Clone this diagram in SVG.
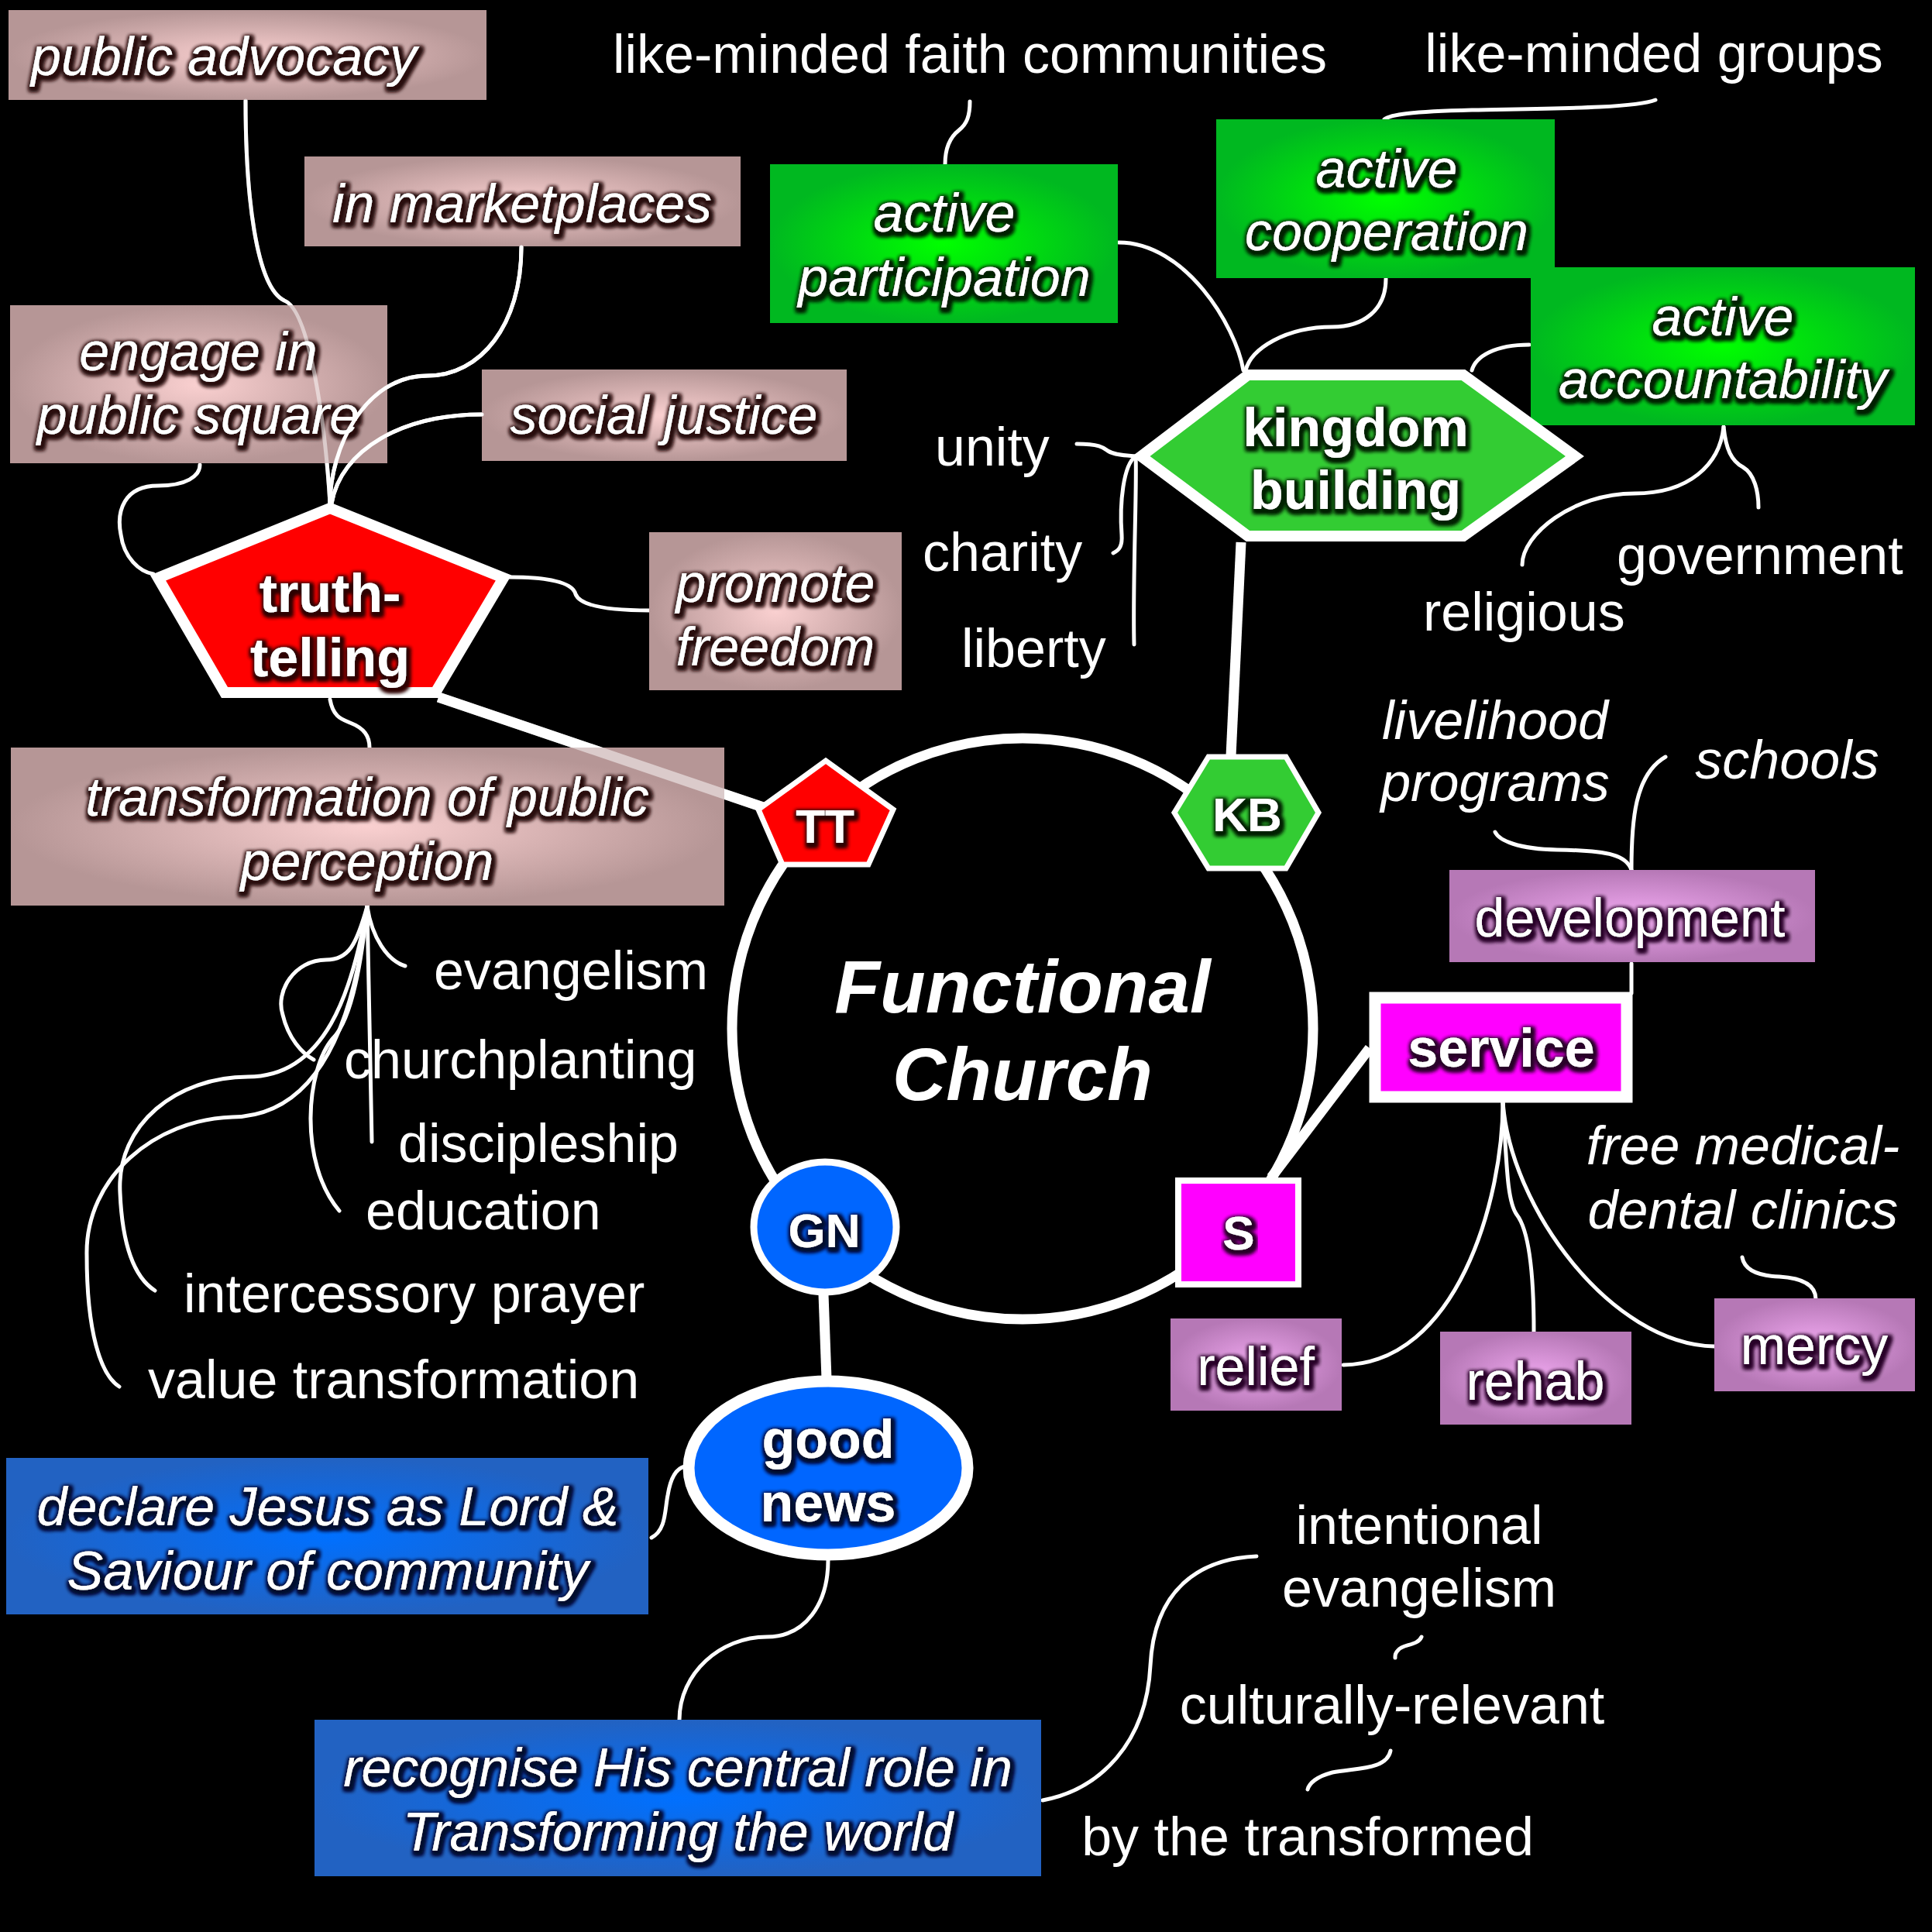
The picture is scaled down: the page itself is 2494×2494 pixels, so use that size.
<svg xmlns="http://www.w3.org/2000/svg" xmlns:xlink="http://www.w3.org/1999/xlink" width="2494" height="2494" viewBox="0 0 2494 2494">
<defs>
<style>
.lbl{font-family:"Liberation Sans",Arial,sans-serif;font-size:70px;fill:#fff}
.it{font-style:italic}
.b{font-weight:bold}
.m{text-anchor:middle}
.c{fill:none;stroke:#fff;stroke-width:5;stroke-linecap:round}
.t{fill:none;stroke:#fff;stroke-width:13}
.pk{fill:url(#gPink)}
.gr{fill:url(#gGreen)}
.pu{fill:url(#gPurple)}
.bl{fill:url(#gBlue)}
</style>
<radialGradient id="gPink"><stop offset="0" stop-color="#fad0d0"/><stop offset="1" stop-color="#b69696"/></radialGradient>
<radialGradient id="gGreen"><stop offset="0" stop-color="#00ff00"/><stop offset="1" stop-color="#00b820"/></radialGradient>
<radialGradient id="gPurple"><stop offset="0" stop-color="#f0a8f0"/><stop offset="1" stop-color="#b678b6"/></radialGradient>
<radialGradient id="gBlue"><stop offset="0" stop-color="#0070ff"/><stop offset="1" stop-color="#2262c2"/></radialGradient>
<filter id="fBr" x="-10%" y="-30%" width="120%" height="160%"><feMorphology in="SourceAlpha" operator="dilate" radius="2.5" result="d"/><feGaussianBlur in="d" stdDeviation="2.5" result="bb"/><feOffset in="bb" dx="2" dy="3" result="o"/><feFlood flood-color="#2a1010"/><feComposite in2="o" operator="in" result="s"/><feMerge><feMergeNode in="s"/><feMergeNode in="s"/><feMergeNode in="SourceGraphic"/></feMerge></filter>
<filter id="fGr" x="-10%" y="-30%" width="120%" height="160%"><feMorphology in="SourceAlpha" operator="dilate" radius="2.5" result="d"/><feGaussianBlur in="d" stdDeviation="2.5" result="bb"/><feOffset in="bb" dx="2" dy="3" result="o"/><feFlood flood-color="#002200"/><feComposite in2="o" operator="in" result="s"/><feMerge><feMergeNode in="s"/><feMergeNode in="s"/><feMergeNode in="SourceGraphic"/></feMerge></filter>
<filter id="fBl" x="-10%" y="-30%" width="120%" height="160%"><feMorphology in="SourceAlpha" operator="dilate" radius="2.5" result="d"/><feGaussianBlur in="d" stdDeviation="2.5" result="bb"/><feOffset in="bb" dx="2" dy="3" result="o"/><feFlood flood-color="#000a30"/><feComposite in2="o" operator="in" result="s"/><feMerge><feMergeNode in="s"/><feMergeNode in="s"/><feMergeNode in="SourceGraphic"/></feMerge></filter>
<filter id="fPu" x="-10%" y="-30%" width="120%" height="160%"><feMorphology in="SourceAlpha" operator="dilate" radius="2.5" result="d"/><feGaussianBlur in="d" stdDeviation="2.5" result="bb"/><feOffset in="bb" dx="2" dy="3" result="o"/><feFlood flood-color="#2a002a"/><feComposite in2="o" operator="in" result="s"/><feMerge><feMergeNode in="s"/><feMergeNode in="s"/><feMergeNode in="SourceGraphic"/></feMerge></filter>
<filter id="fRd" x="-10%" y="-30%" width="120%" height="160%"><feMorphology in="SourceAlpha" operator="dilate" radius="2.5" result="d"/><feGaussianBlur in="d" stdDeviation="2.5" result="bb"/><feOffset in="bb" dx="2" dy="3" result="o"/><feFlood flood-color="#300000"/><feComposite in2="o" operator="in" result="s"/><feMerge><feMergeNode in="s"/><feMergeNode in="s"/><feMergeNode in="SourceGraphic"/></feMerge></filter>
</defs>
<rect x="0" y="0" width="2494" height="2494" fill="#000"/>

<g id="connectors">
<path id="cTT" class="t" d="M566 900 L985 1042"/>
<path class="t" d="M1602 700 L1589 976"/>
<path class="t" d="M1768 1353 L1641 1520"/>
<path class="t" d="M1063 1671 L1067 1780"/>
<path id="cPA" class="c" d="M317 130 C317 250 330 370 367 388 C400 400 420 550 426 650"/>
<path id="cMK" class="c" d="M673 319 C673 420 620 485 552 485 C470 485 426 580 426 650"/>
<path id="cSJ" class="c" d="M622 535 C520 535 440 580 428 650"/>
<path class="c" d="M258 600 C258 615 240 627 204 627 C160 627 150 660 156 690 C160 720 180 738 198 741"/>
<path class="c" d="M657 745 C720 745 740 755 743 767 C750 785 800 788 839 788"/>
<path class="c" d="M426 903 C430 925 440 928 452 933 C470 940 477 950 477 965"/>
<path class="c" d="M474 1170 C480 1210 500 1240 523 1247"/>
<path class="c" d="M474 1170 L480 1474"/>
<path class="c" d="M474 1170 C460 1220 450 1239 421 1239 C380 1239 355 1280 365 1310 C372 1340 390 1360 405 1368"/>
<path class="c" d="M474 1170 C465 1260 450 1320 430 1340 C395 1380 385 1500 438 1563"/>
<path class="c" d="M474 1170 C455 1280 420 1390 320 1390 C230 1390 150 1450 155 1540 C158 1610 175 1650 200 1666"/>
<path class="c" d="M474 1170 C460 1300 420 1440 300 1442 C200 1445 110 1520 112 1620 C112 1720 130 1775 154 1790"/>
<path class="c" d="M1444 313 C1530 313 1595 420 1605 478"/>
<path class="c" d="M1789 360 C1789 400 1760 422 1720 422 C1660 422 1615 450 1608 478"/>
<path class="c" d="M1974 445 C1930 445 1905 460 1900 478"/>
<path class="c" d="M1252 131 C1252 150 1248 160 1238 168 C1225 178 1220 195 1220 212"/>
<path class="c" d="M2137 129 C2110 140 2000 140 1900 142 C1820 144 1795 148 1787 154"/>
<path class="c" d="M1390 573 C1420 573 1425 578 1430 582 C1440 588 1455 588 1466 589"/>
<path class="c" d="M1466 589 C1450 600 1445 650 1448 690 C1449 705 1445 710 1437 714"/>
<path class="c" d="M1466 589 C1468 620 1462 750 1464 832"/>
<path class="c" d="M2225 551 C2228 580 2235 595 2250 603 C2265 612 2270 635 2270 655"/>
<path class="c" d="M2225 551 C2220 600 2180 637 2110 637 C2030 637 1965 690 1965 729"/>
<path class="c" d="M2106 1244 L2106 1282"/>
<path class="c" d="M2106 1123 C2106 1060 2110 1000 2150 977"/>
<path class="c" d="M2106 1123 C2100 1105 2080 1098 2010 1097 C1960 1096 1935 1085 1930 1074"/>
<path class="c" d="M1940 1423 C1940 1550 1880 1760 1734 1762"/>
<path class="c" d="M1940 1423 C1945 1500 1945 1550 1958 1568 C1975 1590 1980 1650 1980 1720"/>
<path class="c" d="M1940 1423 C1950 1560 2080 1735 2213 1738"/>
<path class="c" d="M2249 1623 C2252 1640 2270 1647 2297 1648 C2330 1650 2344 1660 2344 1677"/>
<path class="c" d="M841 1985 C860 1975 858 1950 862 1930 C866 1905 875 1895 884 1893"/>
<path class="c" d="M1069 2014 C1069 2070 1040 2113 990 2113 C930 2113 877 2160 877 2220"/>
<path class="c" d="M1346 2324 C1420 2310 1480 2250 1485 2150 C1490 2050 1550 2012 1622 2009"/>
<path class="c" d="M1835 2113 C1830 2125 1810 2122 1805 2130 C1800 2135 1801 2138 1801 2140"/>
<path class="c" d="M1795 2260 C1790 2285 1750 2282 1720 2288 C1700 2293 1690 2302 1688 2310"/>
</g>

<g id="nodes">
<g id="n-circle"><circle cx="1320" cy="1328" r="375" fill="none" stroke="#fff" stroke-width="13"/>
<text class="lbl b it m" style="font-size:96px" x="1320" y="1307">Functional</text>
<text class="lbl b it m" style="font-size:96px" x="1320" y="1420">Church</text></g>

<g id="n-public-advocacy"><rect class="pk" x="11" y="13" width="617" height="116"/>
<text class="lbl it" filter="url(#fBr)" x="40" y="97">public advocacy</text></g>
<g id="n-marketplaces"><rect class="pk" x="393" y="202" width="563" height="116"/>
<text class="lbl it m" filter="url(#fBr)" x="674" y="287">in marketplaces</text></g>
<g id="n-engage"><rect class="pk" x="13" y="394" width="487" height="204"/>
<text class="lbl it m" filter="url(#fBr)" x="256" y="478">engage in</text>
<text class="lbl it m" filter="url(#fBr)" x="256" y="560">public square</text></g>
<g id="n-social-justice"><rect class="pk" x="622" y="477" width="471" height="118"/>
<text class="lbl it m" filter="url(#fBr)" x="857" y="560">social justice</text></g>
<g id="n-promote-freedom"><rect class="pk" x="838" y="687" width="326" height="204"/>
<text class="lbl it m" filter="url(#fBr)" x="1001" y="777">promote</text>
<text class="lbl it m" filter="url(#fBr)" x="1001" y="859">freedom</text></g>
<g id="n-transformation"><rect class="pk" x="14" y="965" width="921" height="204"/>
<text class="lbl it m" filter="url(#fBr)" x="474" y="1053">transformation of public</text>
<text class="lbl it m" filter="url(#fBr)" x="474" y="1136">perception</text></g>

<g id="n-truth-telling"><polygon points="426,656 650,746 562,894 290,894 204,746" fill="#ff0000" stroke="#fff" stroke-width="14"/>
<text class="lbl b m" filter="url(#fRd)" x="426" y="790">truth-</text>
<text class="lbl b m" filter="url(#fRd)" x="426" y="873">telling</text></g>

<g id="n-active-participation"><rect class="gr" x="994" y="212" width="449" height="205"/>
<text class="lbl it m" filter="url(#fGr)" x="1219" y="299">active</text>
<text class="lbl it m" filter="url(#fGr)" x="1219" y="382">participation</text></g>
<g id="n-active-cooperation"><rect class="gr" x="1570" y="154" width="437" height="205"/>
<text class="lbl it m" filter="url(#fGr)" x="1790" y="242">active</text>
<text class="lbl it m" filter="url(#fGr)" x="1790" y="323">cooperation</text></g>
<g id="n-active-accountability"><rect class="gr" x="1976" y="345" width="496" height="204"/>
<text class="lbl it m" filter="url(#fGr)" x="2224" y="433">active</text>
<text class="lbl it m" filter="url(#fGr)" x="2224" y="514">accountability</text></g>

<g id="n-kingdom-building"><polygon points="1473,589 1611,484 1889,484 2033,589 1889,692 1611,692" fill="#33cc33" stroke="#fff" stroke-width="14"/>
<text class="lbl b m" filter="url(#fGr)" x="1750" y="576">kingdom</text>
<text class="lbl b m" filter="url(#fGr)" x="1750" y="657">building</text></g>

<g id="n-TT"><polygon points="1066,982 1153,1045 1121,1116 1010,1116 979,1045" fill="#ff0000" stroke="#fff" stroke-width="7"/>
<text class="lbl b m" filter="url(#fRd)" style="font-size:62px" x="1065" y="1088">TT</text></g>
<g id="n-KB"><polygon points="1516,1049 1560,977 1660,977 1702,1049 1660,1121 1560,1121" fill="#33cc33" stroke="#fff" stroke-width="7"/>
<text class="lbl b m" filter="url(#fGr)" style="font-size:62px" x="1610" y="1073">KB</text></g>
<g id="n-S"><rect x="1521" y="1524" width="155" height="134" fill="#ff00ff" stroke="#fff" stroke-width="8"/>
<text class="lbl b m" filter="url(#fPu)" style="font-size:62px" x="1599" y="1613">S</text></g>
<g id="n-GN"><ellipse cx="1065" cy="1584" rx="92" ry="84" fill="#0066ff" stroke="#fff" stroke-width="9"/>
<text class="lbl b m" filter="url(#fBl)" style="font-size:62px" x="1064" y="1610">GN</text></g>

<g id="n-development"><rect class="pu" x="1871" y="1123" width="472" height="119"/>
<text class="lbl m" filter="url(#fPu)" x="2104" y="1209">development</text></g>
<g id="n-service"><rect x="1775" y="1288" width="325" height="128" fill="#ff00ff" stroke="#fff" stroke-width="15"/>
<text class="lbl b m" filter="url(#fPu)" x="1938" y="1377">service</text></g>
<g id="n-relief"><rect class="pu" x="1511" y="1702" width="221" height="119"/>
<text class="lbl m" filter="url(#fPu)" x="1621" y="1788">relief</text></g>
<g id="n-rehab"><rect class="pu" x="1859" y="1719" width="247" height="120"/>
<text class="lbl m" filter="url(#fPu)" x="1982" y="1807">rehab</text></g>
<g id="n-mercy"><rect class="pu" x="2213" y="1676" width="259" height="120"/>
<text class="lbl m" filter="url(#fPu)" x="2342" y="1761">mercy</text></g>

<g id="n-good-news"><ellipse cx="1069" cy="1895" rx="180" ry="112" fill="#0066ff" stroke="#fff" stroke-width="15"/>
<text class="lbl b m" filter="url(#fBl)" x="1069" y="1882">good</text>
<text class="lbl b m" filter="url(#fBl)" x="1069" y="1964">news</text></g>
<g id="n-declare"><rect class="bl" x="8" y="1882" width="829" height="202"/>
<text class="lbl it m" filter="url(#fBl)" x="423" y="1969">declare Jesus as Lord &amp;</text>
<text class="lbl it m" filter="url(#fBl)" x="423" y="2052">Saviour of community</text></g>
<g id="n-recognise"><rect class="bl" x="406" y="2220" width="938" height="202"/>
<text class="lbl it m" filter="url(#fBl)" x="875" y="2306">recognise His central role in</text>
<text class="lbl it m" filter="url(#fBl)" x="875" y="2389">Transforming the world</text></g>

<g id="labels">
<text class="lbl m" x="1252" y="94">like-minded faith communities</text>
<text class="lbl m" x="2135" y="93">like-minded groups</text>
<text class="lbl" x="1207" y="601">unity</text>
<text class="lbl" x="1191" y="737">charity</text>
<text class="lbl" x="1241" y="861">liberty</text>
<text class="lbl" x="2087" y="741">government</text>
<text class="lbl" x="1837" y="814">religious</text>
<text class="lbl it m" x="1930" y="954">livelihood</text>
<text class="lbl it m" x="1930" y="1034">programs</text>
<text class="lbl it m" x="2307" y="1005">schools</text>
<text class="lbl it m" x="2250" y="1503">free medical-</text>
<text class="lbl it m" x="2250" y="1586">dental clinics</text>
<text class="lbl" x="560" y="1277">evangelism</text>
<text class="lbl" x="444" y="1392">churchplanting</text>
<text class="lbl" x="514" y="1500">discipleship</text>
<text class="lbl" x="472" y="1587">education</text>
<text class="lbl" x="237" y="1694">intercessory prayer</text>
<text class="lbl" x="191" y="1805">value transformation</text>
<text class="lbl m" x="1832" y="1993">intentional</text>
<text class="lbl m" x="1832" y="2074">evangelism</text>
<text class="lbl m" x="1797" y="2225">culturally-relevant</text>
<text class="lbl m" x="1688" y="2395">by the transformed</text>
</g>
</g>

<g id="connector-overlay">
<use xlink:href="#cPA" href="#cPA" opacity="0.5"/>
<use xlink:href="#cTT" href="#cTT" opacity="0.5"/>
<use xlink:href="#cMK" href="#cMK"/>
<use xlink:href="#cSJ" href="#cSJ"/>
</g>
</svg>
